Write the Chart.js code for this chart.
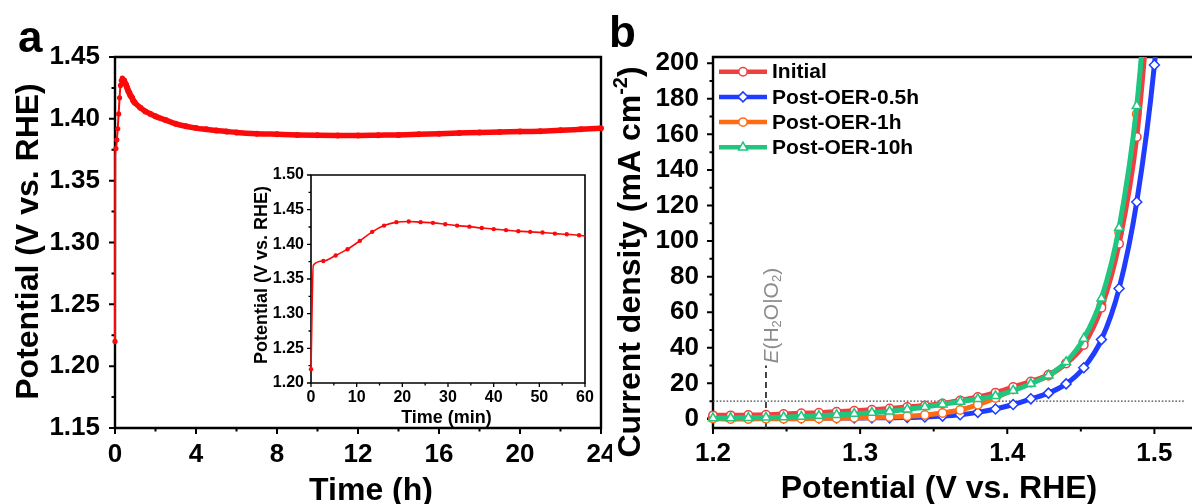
<!DOCTYPE html>
<html>
<head>
<meta charset="utf-8">
<script src="https://cdn.jsdelivr.net/npm/chart.js@4.4.0/dist/chart.umd.min.js"></script>
<style>
  html, body { margin: 0; padding: 0; background: #fff; }
  #wrap { position: relative; width: 1192px; height: 504px; overflow: hidden; }
  canvas { position: absolute; display: block; }
</style>
</head>
<body>
<div id="wrap">
  <canvas id="chA" width="612" height="504" style="left:0;top:0"></canvas>
  <canvas id="chIn" width="360" height="265" style="left:240px;top:165px"></canvas>
  <canvas id="chB" width="592" height="504" style="left:600px;top:0"></canvas>
</div>
<script>
// ---- data: panel a, chronopotentiometry (hours) ----
const tHours = [0, 0.01, 0.045, 0.09, 0.135, 0.18, 0.225, 0.27, 0.31, 0.36, 0.40, 0.45, 0.49, 0.535, 0.58, 0.625,
  0.67, 0.71, 0.755, 0.80, 0.845, 0.89, 0.935, 0.98, 1.25, 1.5, 1.75, 2, 2.5, 3, 3.5, 4, 4.5, 5, 5.5, 6, 7, 8, 9,
  10, 11, 12, 13, 14, 15, 16, 17, 18, 19, 20, 21, 22, 23, 24];
const vHours = [1.220, 1.370, 1.376, 1.383, 1.392, 1.404, 1.417, 1.427, 1.431, 1.433, 1.432, 1.431, 1.429, 1.428,
  1.426, 1.424, 1.422, 1.421, 1.419, 1.418, 1.417, 1.415, 1.414, 1.413, 1.409, 1.406, 1.404, 1.402, 1.399, 1.396,
  1.394, 1.3925, 1.3915, 1.3905, 1.3898, 1.389, 1.388, 1.3875, 1.387, 1.3867, 1.3866, 1.3866, 1.3868, 1.387,
  1.3875, 1.388, 1.3885, 1.389, 1.3893, 1.3897, 1.390, 1.3907, 1.3915, 1.3923];

// ---- data: inset, first hour (minutes) ----
const tMin = [0, 0.5, 2.7, 5.4, 8.0, 10.7, 13.4, 16.0, 18.7, 21.4, 24.0, 26.7, 29.4, 32.0, 34.7, 37.4, 40.0, 42.7,
  45.4, 48.0, 50.7, 53.4, 56.0, 58.7, 60];
const vMin = [1.220, 1.370, 1.376, 1.384, 1.393, 1.405, 1.418, 1.427, 1.432, 1.433, 1.432, 1.431, 1.429, 1.427,
  1.4255, 1.4235, 1.422, 1.4205, 1.419, 1.418, 1.417, 1.4155, 1.4145, 1.413, 1.412];

// ---- data: panel b, LSV curves ----
const potB = [1.200, 1.212, 1.224, 1.236, 1.248, 1.260, 1.272, 1.284, 1.296, 1.308, 1.320, 1.332, 1.344, 1.356,
  1.368, 1.380, 1.392, 1.404, 1.416, 1.428, 1.440, 1.452, 1.464, 1.476, 1.488, 1.500, 1.512];
const jInitial = [2.0, 2.0, 2.2, 2.4, 2.8, 3.2, 3.5, 4.1, 4.6, 5.2, 5.9, 6.7, 7.6, 8.7, 10.4, 12.3, 14.8, 18.0,
  21.1, 24.9, 31.1, 41.6, 62.5, 98.5, 158.5, 270, null];
const jPost05 = [0.8, 0.7, 0.6, 0.6, 0.5, 0.5, 0.5, 0.5, 0.5, 0.6, 0.6, 0.8, 1.1, 1.6, 2.4, 3.7, 5.6, 8.1, 11.3,
  14.5, 19.7, 28.8, 44.6, 73.3, 122, 199, 320];
const jPost1 = [0.2, 0.0, 0.0, 0.1, 0.1, 0.2, 0.3, 0.4, 0.6, 0.8, 1.1, 1.5, 2.2, 3.3, 5.0, 8.0, 11.8, 16.5, 20.3,
  24.3, 31.4, 43.5, 64, 105, 171.5, 285, null];
const jPost10 = [0.4, 0.5, 0.6, 0.8, 1.0, 1.3, 1.8, 2.3, 2.9, 3.5, 4.3, 5.4, 6.7, 8.2, 9.7, 11.2, 12.9, 15.9,
  19.8, 24.5, 32.0, 45.2, 67.7, 107.5, 176, 295, null];
const seriesNames = ['Initial', 'Post-OER-0.5h', 'Post-OER-1h', 'Post-OER-10h'];

// ---- tick labels ----
const hourTicks = [0, 4, 8, 12, 16, 20, 24];
const potTicks = [1.15, 1.20, 1.25, 1.30, 1.35, 1.40, 1.45];
const minTicks = [0, 10, 20, 30, 40, 50, 60];
const insetPotTicks = [1.20, 1.25, 1.30, 1.35, 1.40, 1.45, 1.50];
const potBTicks = [1.2, 1.3, 1.4, 1.5];
const curTicks = [0, 20, 40, 60, 80, 100, 120, 140, 160, 180, 200];
const eqPotential = 1.236;   // E(H2O|O2) marker
const refCurrent = 10;       // dotted line

const FAMILY = '"Liberation Sans", Arial, Helvetica, sans-serif';
Chart.defaults.font.family = FAMILY;
const RED = 'rgb(250,10,10)';
const COLORS = ['#ef4040', '#1f3cff', '#ff6a14', '#1ec67f'];

const mid = arr => arr.slice(1).map((v, i) => (v + arr[i]) / 2);

function drawRich(ctx, segs, x, y, rot, size, weight, color, align) {
  ctx.save();
  ctx.translate(x, y);
  if (rot) ctx.rotate(rot);
  ctx.fillStyle = color;
  ctx.textBaseline = 'alphabetic';
  ctx.textAlign = 'left';
  const fontOf = s => (s.italic ? 'italic ' : '') + weight + ' ' +
    ((s.sup || s.sub) ? Math.round(size * 0.62) : size) + 'px ' + FAMILY;
  let w = 0;
  segs.forEach(s => { ctx.font = fontOf(s); w += ctx.measureText(s.t).width; });
  let cx = align === 'left' ? 0 : -w / 2;
  segs.forEach(s => {
    ctx.font = fontOf(s);
    const dy = s.sup ? -size * 0.4 : (s.sub ? size * 0.14 : 0);
    ctx.fillText(s.t, cx, dy);
    cx += ctx.measureText(s.t).width;
  });
  ctx.restore();
}

// frame + outward ticks
const framePlugin = {
  id: 'frame',
  beforeDatasetsDraw(chart, args, o) {
    const {ctx, chartArea: a, scales: {x, y}} = chart;
    ctx.save();
    ctx.strokeStyle = '#000';
    ctx.lineWidth = o.lw;
    ctx.beginPath();
    if (o.open) {
      ctx.moveTo(chart.width, a.top); ctx.lineTo(a.left, a.top);
      ctx.lineTo(a.left, a.bottom); ctx.lineTo(chart.width, a.bottom);
    } else {
      ctx.rect(a.left, a.top, a.right - a.left, a.bottom - a.top);
    }
    ctx.stroke();
    ctx.lineWidth = o.tw;
    ctx.beginPath();
    const tx = (vals, len) => vals.forEach(v => {
      const p = x.getPixelForValue(v);
      if (p < a.left - 1 || p > a.right + 1) return;
      ctx.moveTo(p, a.bottom); ctx.lineTo(p, a.bottom + len);
    });
    const ty = (vals, len) => vals.forEach(v => {
      const p = y.getPixelForValue(v);
      ctx.moveTo(a.left, p); ctx.lineTo(a.left - len, p);
    });
    tx(o.xMajor, o.len); tx(o.xMinor, o.minorLen);
    ty(o.yMajor, o.len); ty(o.yMinor, o.minorLen);
    ctx.stroke();
    ctx.restore();
  }
};

// titles and panel letters
const textPlugin = {
  id: 'texts',
  afterDraw(chart, args, o) {
    o.items.forEach(it => drawRich(chart.ctx, it.segs, it.x, it.y, it.rot || 0, it.size,
      it.weight || 'bold', it.color || '#000', it.align || 'center'));
  }
};

// reference lines in panel b
const refPlugin = {
  id: 'refs',
  beforeDatasetsDraw(chart) {
    const {ctx, chartArea: a, scales: {x, y}} = chart;
    ctx.save();
    const yr = y.getPixelForValue(refCurrent);
    ctx.strokeStyle = '#444';
    ctx.lineWidth = 1.3;
    ctx.setLineDash([1.6, 1.8]);
    ctx.beginPath(); ctx.moveTo(a.left, yr); ctx.lineTo(a.right, yr); ctx.stroke();
    const xe = x.getPixelForValue(eqPotential);
    const yTop = y.getPixelForValue(30);
    ctx.strokeStyle = '#333';
    ctx.lineWidth = 1.8;
    ctx.setLineDash([6, 4]);
    ctx.beginPath(); ctx.moveTo(xe, a.bottom); ctx.lineTo(xe, yTop); ctx.stroke();
    ctx.restore();
    drawRich(ctx, [{t: 'E', italic: true}, {t: '(H'}, {t: '2', sub: true}, {t: 'O|O'}, {t: '2', sub: true}, {t: ')'}],
      xe + 12, yTop - 2, -Math.PI / 2, 21, 'normal', '#8c8c8c', 'left');
  }
};

// legend for panel b: line with marker in the middle
const legendPlugin = {
  id: 'lsvLegend',
  afterDatasetsDraw(chart) {
    const {ctx, chartArea: a} = chart;
    ctx.save();
    chart.data.datasets.forEach((ds, i) => {
      const yy = a.top + 14.7 + i * 25.2;
      ctx.strokeStyle = ds.borderColor;
      ctx.lineWidth = 4.5;
      ctx.beginPath(); ctx.moveTo(a.left + 6, yy); ctx.lineTo(a.left + 54, yy); ctx.stroke();
      ctx.fillStyle = '#fff';
      ctx.strokeStyle = ds.borderColor;
      ctx.lineWidth = 1.5;
      Chart.helpers.drawPoint(ctx, {pointStyle: ds.pointStyle, radius: ds.pointRadius, borderWidth: 1.5, rotation: 0},
        a.left + 30, yy);
      ctx.fillStyle = '#000';
      ctx.font = 'bold 21px ' + FAMILY;
      ctx.textBaseline = 'middle';
      ctx.textAlign = 'left';
      ctx.fillText(ds.label, a.left + 59, yy + 1);
    });
    ctx.restore();
  }
};

function axis(min, max, ticks, decimals, size, pad, fitKey, fitVal) {
  return {
    type: 'linear', min, max,
    grid: {display: false, drawTicks: false},
    border: {display: false},
    afterBuildTicks: s => { s.ticks = ticks.map(v => ({value: v})); },
    afterFit: s => {
      s[fitKey] = fitVal;
      s.paddingLeft = 0; s.paddingRight = 0; s.paddingTop = 0; s.paddingBottom = 0;
    },
    ticks: {
      color: '#000', padding: pad, autoSkip: false, maxRotation: 0,
      font: {size, weight: 'bold'},
      callback: v => Number(v).toFixed(decimals)
    }
  };
}

const baseOpts = {responsive: false, animation: false, events: []};

// Panel a
new Chart(document.getElementById('chA'), {
  type: 'line',
  data: {
    datasets: [{
      data: tHours.map((t, i) => ({x: t, y: vHours[i]})),
      borderColor: RED, pointBackgroundColor: RED, pointBorderWidth: 0,
      borderWidth: 2,
      cubicInterpolationMode: 'monotone',
      pointRadius: ctx => ctx.dataIndex === 1 ? 0 : (ctx.dataIndex < 11 ? 2.6 : 3),
      segment: {borderWidth: ctx => ctx.p0.parsed.x < 0.44 ? 2 : 5.5},
      clip: false
    }]
  },
  options: Object.assign({}, baseOpts, {
    layout: {padding: {top: 57, right: 11, left: 0, bottom: 0}},
    plugins: {
      legend: {display: false}, tooltip: {enabled: false},
      frame: {lw: 2.4, tw: 2, len: 6, minorLen: 3.5, open: false,
        xMajor: hourTicks, xMinor: mid(hourTicks), yMajor: potTicks, yMinor: mid(potTicks)},
      texts: {items: [
        {segs: [{t: 'a'}], x: 18, y: 52, size: 44, align: 'left'},
        {segs: [{t: 'Potential (V vs. RHE)'}], x: 38, y: 241.5, rot: -Math.PI / 2, size: 32},
        {segs: [{t: 'Time (h)'}], x: 371, y: 500, size: 32}
      ]}
    },
    scales: {
      x: axis(0, 24, hourTicks, 0, 26, 11, 'height', 76),
      y: axis(1.15, 1.45, potTicks, 2, 26, 15, 'width', 115)
    }
  }),
  plugins: [framePlugin, textPlugin]
});

// Inset
new Chart(document.getElementById('chIn'), {
  type: 'line',
  data: {
    datasets: [{
      data: tMin.map((t, i) => ({x: t, y: vMin[i]})),
      borderColor: RED, pointBackgroundColor: RED, pointBorderWidth: 0,
      borderWidth: 1.6,
      cubicInterpolationMode: 'monotone',
      pointRadius: ctx => (ctx.dataIndex === 1 || ctx.dataIndex === tMin.length - 1) ? 0 : 2.2,
      clip: false
    }]
  },
  options: Object.assign({}, baseOpts, {
    layout: {padding: {top: 10, right: 15, left: 0, bottom: 0}},
    plugins: {
      legend: {display: false}, tooltip: {enabled: false},
      frame: {lw: 1.6, tw: 1.3, len: 4, minorLen: 2.5, open: false,
        xMajor: minTicks, xMinor: mid(minTicks), yMajor: insetPotTicks, yMinor: mid(insetPotTicks)},
      texts: {items: [
        {segs: [{t: 'Potential (V vs. RHE)'}], x: 27, y: 110, rot: -Math.PI / 2, size: 18},
        {segs: [{t: 'Time (min)'}], x: 206.5, y: 258, size: 18}
      ]}
    },
    scales: {
      x: axis(0, 60, minTicks, 0, 16, 5, 'height', 47),
      y: axis(1.20, 1.50, insetPotTicks, 2, 16, 7, 'width', 71)
    }
  }),
  plugins: [framePlugin, textPlugin]
});

// Panel b
const lsv = [jInitial, jPost05, jPost1, jPost10];
const styles = ['circle', 'rectRot', 'circle', 'triangle'];
const radii = [4.2, 5, 4.2, 5.2];
const drawOrder = [1, 3, 2, 0];
new Chart(document.getElementById('chB'), {
  type: 'line',
  data: {
    datasets: lsv.map((arr, k) => ({
      label: seriesNames[k],
      data: potB.map((p, i) => ({x: p, y: arr[i]})),
      borderColor: COLORS[k],
      borderWidth: 5,
      pointStyle: styles[k],
      pointRadius: radii[k],
      pointBorderWidth: 1.5,
      pointBorderColor: COLORS[k],
      pointBackgroundColor: '#fff',
      cubicInterpolationMode: 'monotone',
      order: drawOrder[k],
      clip: {left: 8, top: 0, right: 0, bottom: 8}
    }))
  },
  options: Object.assign({}, baseOpts, {
    layout: {padding: {top: 57, right: 0, left: 0, bottom: 0}},
    plugins: {
      legend: {display: false}, tooltip: {enabled: false},
      frame: {lw: 2.4, tw: 2, len: 6, minorLen: 3.5, open: true,
        xMajor: potBTicks, xMinor: mid(potBTicks), yMajor: curTicks, yMinor: mid(curTicks)},
      texts: {items: [
        {segs: [{t: 'b'}], x: 9, y: 47, size: 44, align: 'left'},
        {segs: [{t: 'Current density (mA cm'}, {t: '-2', sup: true}, {t: ')'}], x: 40, y: 262,
          rot: -Math.PI / 2, size: 32},
        {segs: [{t: 'Potential (V vs. RHE)'}], x: 339, y: 498, size: 32}
      ]}
    },
    scales: {
      x: axis(1.2, 1.521, potBTicks, 1, 26, 10, 'height', 76),
      y: axis(-5.1, 203.5, curTicks, 0, 26, 14, 'width', 113)
    }
  }),
  plugins: [framePlugin, refPlugin, legendPlugin, textPlugin]
});
</script>
</body>
</html>
